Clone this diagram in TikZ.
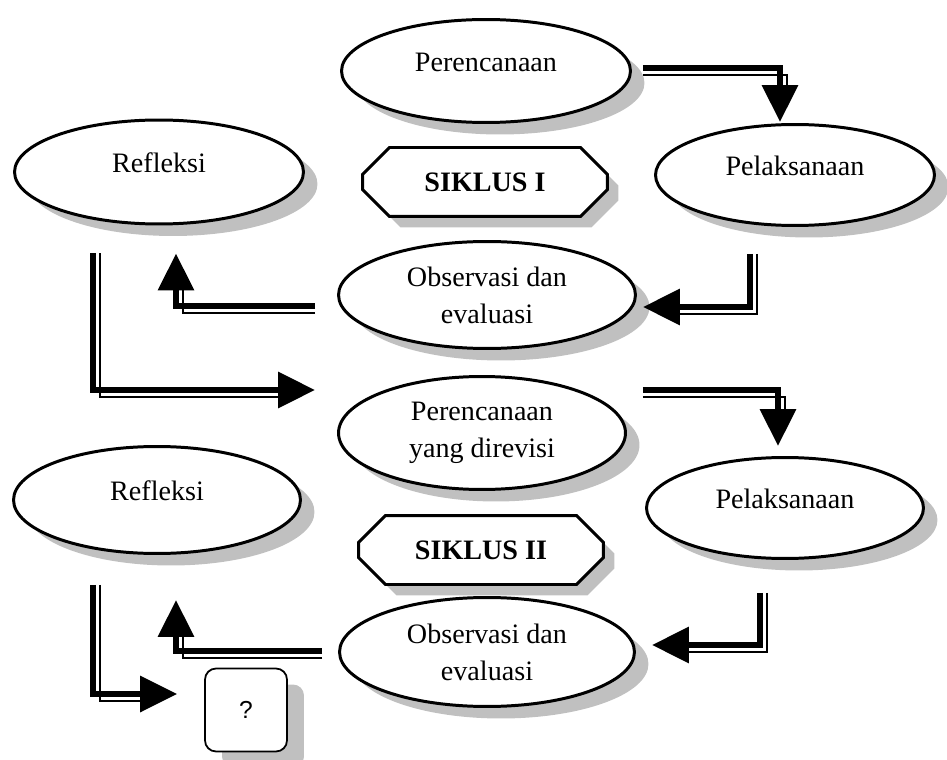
\documentclass[tikz,border=0pt]{standalone}
\usepackage{fontspec}
\setmainfont{Liberation Serif}
\newfontfamily\qmarkfont{Liberation Sans}
\usetikzlibrary{arrows.meta,calc,shapes.geometric,shapes.misc,shadows}
\definecolor{shadowgray}{RGB}{192,192,192}
% double-line arrow: thick shaft with a thin parallel line on its lower right side
\newcommand{\flowhv}[2]{%
  \draw[flowthin] ($(#1)+(0,7)$) -| ($(#2)+(7,0)$);
  \draw[flow] (#1) -| (#2);}
\newcommand{\flowvh}[2]{%
  \draw[flowthin] ($(#1)+(7,0)$) |- ($(#2)+(0,7)$);
  \draw[flow] (#1) |- (#2);}

\begin{document}
\begin{tikzpicture}[x=0.02cm, y=-0.02cm,
    every node/.style={font=\fontsize{16}{21}\selectfont},
    oval/.style={ellipse, draw, line width=1.7pt, fill=white, inner sep=0pt,
      minimum width=5.8cm, minimum height=2.1cm,
      drop shadow={shadow xshift=0.28cm, shadow yshift=-0.24cm, fill=shadowgray, opacity=1}},
    oneline/.style={text height=11pt, text depth=10pt},
    twoline/.style={align=center},
    siklus/.style={chamfered rectangle, chamfered rectangle sep=0.27cm, draw, line width=1.7pt,
      fill=white, minimum width=4.9cm, minimum height=1.38cm,
      font=\fontsize{16}{21}\selectfont\bfseries,
      drop shadow={shadow xshift=0.22cm, shadow yshift=-0.22cm, fill=shadowgray, opacity=1}},
    qbox/.style={rectangle, rounded corners=0.22cm, draw, line width=1pt, fill=white,
      minimum width=1.64cm, minimum height=1.66cm, font=\qmarkfont\fontsize{14}{16}\selectfont,
      drop shadow={shadow xshift=0.34cm, shadow yshift=-0.32cm, fill=shadowgray, opacity=1}},
    flow/.style={line width=3.7pt, -{Triangle[length=0.74cm,width=0.7cm]}},
    flowthin/.style={line width=0.9pt, shorten >=0.74cm}]
  \useasboundingbox (0,0) rectangle (947,760);

  % siklus I
  \node[oval, oneline, minimum width=5.78cm, minimum height=2.06cm] (per1) at (486,71) {Perencanaan};
  \node[oval, oneline, minimum width=5.58cm, minimum height=2.02cm] (pel1) at (795,175) {Pelaksanaan};
  \node[oval, oneline, minimum width=5.78cm, minimum height=2.08cm] (ref1) at (159,172) {Refleksi};
  \node[siklus] (sik1) at (485,182) {SIKLUS I};
  \node[oval, twoline, minimum width=5.94cm, minimum height=2.14cm] (obs1) at (487,295) {Observasi dan\\evaluasi};

  % siklus II
  \node[oval, twoline, minimum width=5.74cm, minimum height=2.26cm] (prd) at (482,433) {Perencanaan\\yang direvisi};
  \node[oval, oneline, minimum width=5.54cm, minimum height=2.02cm] (pel2) at (785,508) {Pelaksanaan};
  \node[oval, oneline, minimum width=5.74cm, minimum height=2.14cm] (ref2) at (157,500) {Refleksi};
  \node[siklus] (sik2) at (481,550) {SIKLUS II};
  \node[oval, twoline, minimum width=5.9cm, minimum height=2.18cm] (obs2) at (487,652) {Observasi dan\\evaluasi};
  \node[qbox] (q) at (246,710) {?};

  % arrow ends
  \coordinate (a1) at ($(per1.east)+(11,-3)$);
  \coordinate (b1) at ($(pel1.north)+(-15,-1)$);
  \coordinate (a2) at ($(pel1.south)+(-45,27)$);
  \coordinate (b2) at ($(obs1.east)+(6,12)$);
  \coordinate (a3) at ($(obs1.west)+(-22,11)$);
  \coordinate (b3) at ($(ref1.south)+(17,28)$);
  \coordinate (a4) at ($(ref1.south)+(-66,28)$);
  \coordinate (b4) at ($(prd.west)+(-22,-43)$);
  \coordinate (a5) at ($(prd.east)+(16,-43)$);
  \coordinate (b5) at ($(pel2.north)+(-7,-10)$);
  \coordinate (a6) at ($(pel2.south)+(-25,33)$);
  \coordinate (b6) at ($(obs2.east)+(16,-7)$);
  \coordinate (a7) at ($(obs2.west)+(-16,-1)$);
  \coordinate (b7) at ($(ref2.south)+(19,45)$);
  \coordinate (a8) at ($(ref2.south)+(-64,30)$);
  \coordinate (b8) at ($(q.west)+(-27,-16)$);

  % double-line arrows
  \flowhv{a1}{b1}
  \flowvh{a2}{b2}
  \flowhv{a3}{b3}
  \flowvh{a4}{b4}
  \flowhv{a5}{b5}
  \flowvh{a6}{b6}
  \flowhv{a7}{b7}
  \flowvh{a8}{b8}
\end{tikzpicture}
\end{document}
